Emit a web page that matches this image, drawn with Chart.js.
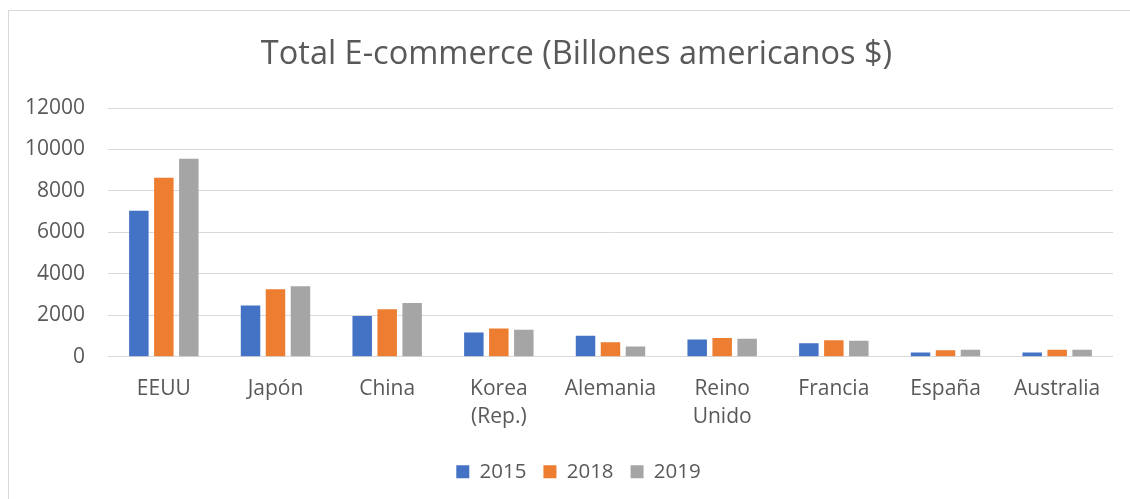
<!DOCTYPE html>
<html>
<head>
<meta charset="utf-8">
<script src="https://cdn.jsdelivr.net/npm/chart.js@4/dist/chart.umd.min.js"></script>
<style>
html,body{margin:0;padding:0;background:#fff;}
#wrap{position:absolute;left:0;top:0;width:1130px;height:499px;}
</style>
</head>
<body>
<div id="wrap"><canvas id="c" width="1130" height="499"></canvas></div>
<script>
const categories = ["EEUU", "Japón", "China", ["Korea", "(Rep.)"], "Alemania", ["Reino", "Unido"], "Francia", "España", "Australia"];
const seriesNames = ["2015", "2018", "2019"];
const values2015 = [7050, 2470, 1970, 1170, 1020, 830, 650, 210, 210];
const values2018 = [8630, 3260, 2290, 1360, 700, 910, 800, 310, 340];
const values2019 = [9550, 3400, 2600, 1300, 500, 875, 780, 340, 340];
const colors = ["#4472C4", "#ED7D31", "#A5A5A5"];
const yTicks = [0, 2000, 4000, 6000, 8000, 10000, 12000];
const titleText = "Total E-commerce (Billones americanos $)";

const FONT = "'Open Sans', 'Noto Sans', sans-serif";
const TXT = "#595959";

const borderPlugin = {
  id: 'outerBorder',
  beforeDraw(chart) {
    const ctx = chart.ctx;
    ctx.save();
    ctx.fillStyle = '#fff';
    ctx.fillRect(0, 0, chart.width, chart.height);
    ctx.strokeStyle = '#D9D9D9';
    ctx.lineWidth = 1;
    ctx.strokeRect(8.5, 10.5, 1140, 520);
    ctx.restore();
  },
  afterLayout(chart) {
    if (chart.legend) {
      chart.legend.left += 18; chart.legend.right += 18;
      chart.legend.top -= 5; chart.legend.bottom -= 5;
    }
    if (chart.titleBlock) { chart.titleBlock.left += 16; chart.titleBlock.right += 16; }
  }
};

new Chart(document.getElementById('c'), {
  type: 'bar',
  data: {
    labels: categories,
    datasets: [
      { label: seriesNames[0], data: values2015, backgroundColor: colors[0] },
      { label: seriesNames[1], data: values2018, backgroundColor: colors[1] },
      { label: seriesNames[2], data: values2019, backgroundColor: colors[2] }
    ]
  },
  options: {
    responsive: false,
    animation: false,
    devicePixelRatio: 1,
    layout: { padding: { left: 8, right: 17, top: 10, bottom: 2 } },
    datasets: { bar: { categoryPercentage: 0.671, barPercentage: 0.78, borderWidth: 0 } },
    plugins: {
      title: {
        display: true, text: titleText, color: TXT,
        font: { family: FONT, size: 32.5, weight: 'normal', lineHeight: 1.2 },
        padding: { top: 25, bottom: 34 }
      },
      legend: {
        display: true, position: 'bottom',
        labels: {
          color: TXT, boxWidth: 13, boxHeight: 13, padding: 17,
          font: { family: FONT, size: 20.5 }
        }
      },
      tooltip: { enabled: false }
    },
    scales: {
      x: {
        grid: { display: false, drawTicks: false },
        border: { display: false },
        ticks: {
          color: TXT, font: { family: FONT, size: 21, lineHeight: 1.35 },
          maxRotation: 0, minRotation: 0, autoSkip: false, padding: 18
        }
      },
      y: {
        min: 0, max: 12000,
        afterBuildTicks(scale) { scale.ticks = yTicks.map(v => ({ value: v })); },
        afterFit(scale) { scale.width = 100; },
        grid: { color: '#D9D9D9', lineWidth: 1, drawTicks: false },
        border: { display: false },
        ticks: {
          color: TXT, font: { family: FONT, size: 21 }, padding: 23,
          callback: v => String(v)
        }
      }
    }
  },
  plugins: [borderPlugin]
});
</script>
</body>
</html>
